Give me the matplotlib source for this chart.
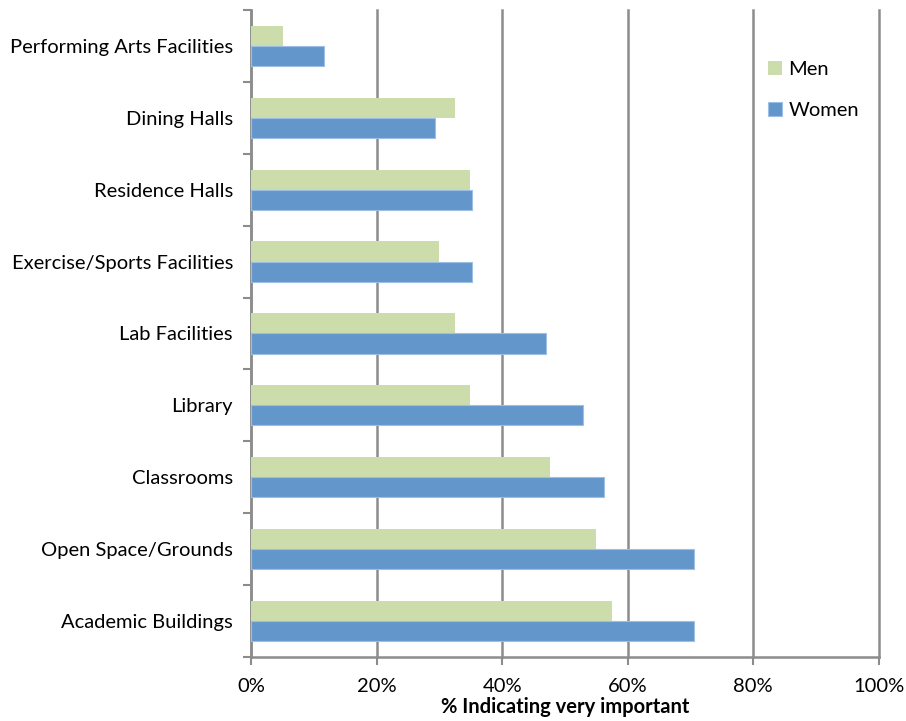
import numpy as np
import matplotlib
matplotlib.use("Agg")
import matplotlib.pyplot as plt
from matplotlib.ticker import PercentFormatter

plt.rcParams['font.family'] = ['Lato', 'DejaVu Sans']

# bottom to top
categories = ["Academic Buildings", "Open Space/Grounds", "Classrooms", "Library",
              "Lab Facilities", "Exercise/Sports Facilities", "Residence Halls",
              "Dining Halls", "Performing Arts Facilities"]
men = [57.5, 54.9, 47.6, 34.9, 32.5, 29.9, 34.9, 32.5, 5.1]
women = [70.5, 70.5, 56.2, 52.9, 47.0, 35.2, 35.2, 29.3, 11.6]

men_color = "#CDDCAB"
women_color = "#6396CA"
fs = 14.5

fig = plt.figure(figsize=(9.06, 7.21), dpi=100)
ax = fig.add_axes([0.277, 0.089, 0.693, 0.897])

y = np.arange(len(categories))
h = 0.28
ax.barh(y + h / 2, men, height=h, color=men_color, label="Men", zorder=3)
ax.barh(y - h / 2, women, height=h, color=women_color, edgecolor="#9DBFE3",
        linewidth=0.8, label="Women", zorder=3)

ax.set_xlim(0, 100)
ax.set_ylim(-0.5, len(categories) - 0.5)
ax.set_xticks(np.arange(0, 101, 20))
ax.xaxis.set_major_formatter(PercentFormatter(decimals=0))
ax.grid(axis="x", color="#8C8C8C", linewidth=1.8, zorder=0)
ax.set_axisbelow(True)
for gl in ax.get_xgridlines():
    gl.set_clip_on(False)

ax.set_yticks(y)
ax.set_yticklabels(categories)
ax.set_yticks(np.arange(-0.5, len(categories), 1), minor=True)
ax.tick_params(axis="y", which="major", length=0, pad=13, labelsize=fs)
ax.tick_params(axis="y", which="minor", length=6, width=1.5, color="#8C8C8C")
ax.tick_params(axis="x", length=6, width=1.5, color="#8C8C8C", labelsize=fs, pad=9)

for s in ["top", "right"]:
    ax.spines[s].set_visible(False)
for s in ["left", "bottom"]:
    ax.spines[s].set_color("#8C8C8C")
    ax.spines[s].set_linewidth(1.8)

ax.set_xlabel("% Indicating very important", fontsize=fs, fontweight="bold", labelpad=2)

handles, labels = ax.get_legend_handles_labels()
ax.legend(handles, labels, loc="upper left", bbox_to_anchor=(0.795, 0.95), frameon=False,
          fontsize=fs, labelspacing=1.2, handlelength=0.7, handleheight=0.7,
          handletextpad=0.3)

fig.savefig("out.png", dpi=100)
